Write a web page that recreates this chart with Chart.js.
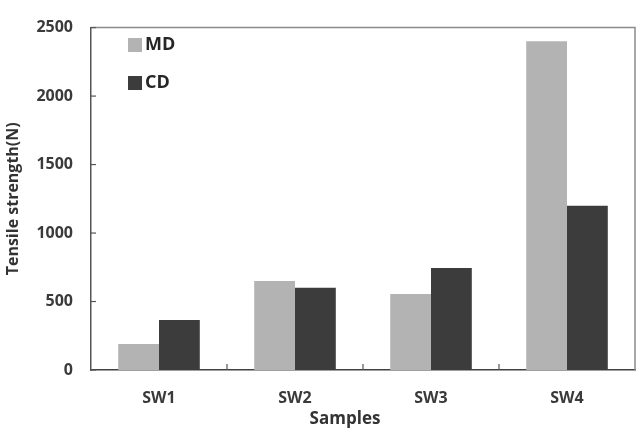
<!DOCTYPE html>
<html>
<head>
<meta charset="utf-8">
<script src="https://cdn.jsdelivr.net/npm/chart.js@4.4.0/dist/chart.umd.min.js"></script>
<style>
  html, body { margin: 0; padding: 0; background: #ffffff; }
  #wrap { width: 643px; height: 428px; }
</style>
</head>
<body>
<div id="wrap"><canvas id="tensileChart" width="643" height="428"></canvas></div>
<script>
// Data
const samples = ['SW1', 'SW2', 'SW3', 'SW4'];
const mdValues = [190, 650, 555, 2400];
const cdValues = [365, 600, 745, 1200];
const yTicks = [0, 500, 1000, 1500, 2000, 2500];

const FONT = '"Open Sans", Lato, sans-serif';

// frame, inward ticks and the legend inside the plot
const framePlugin = {
    id: 'frame',
    afterDraw(chart) {
        const ctx = chart.ctx;
        const area = chart.chartArea;
        const x = chart.scales.x;
        const y = chart.scales.y;
        ctx.save();

        // top + right border
        ctx.strokeStyle = '#8a8a8a';
        ctx.lineWidth = 1.5;
        ctx.beginPath();
        ctx.moveTo(area.left, area.top);
        ctx.lineTo(area.right, area.top);
        ctx.lineTo(area.right, area.bottom);
        ctx.stroke();

        // y ticks pointing inward
        ctx.strokeStyle = '#555555';
        ctx.lineWidth = 1.2;
        yTicks.forEach(v => {
            const py = y.getPixelForValue(v);
            ctx.beginPath();
            ctx.moveTo(area.left, py);
            ctx.lineTo(area.left + 5, py);
            ctx.stroke();
        });

        // x ticks between categories, pointing up
        for (let i = 0; i < samples.length - 1; i++) {
            const px = (x.getPixelForValue(i) + x.getPixelForValue(i + 1)) / 2;
            ctx.beginPath();
            ctx.moveTo(px, area.bottom);
            ctx.lineTo(px, area.bottom - 6);
            ctx.stroke();
        }

        // legend
        const items = chart.data.datasets;
        ctx.font = 'bold 18px ' + FONT;
        ctx.textBaseline = 'middle';
        items.forEach((ds, i) => {
            const cy = 45 + i * 38;
            ctx.fillStyle = ds.backgroundColor;
            ctx.fillRect(128, cy - 7, 14, 14);
            ctx.fillStyle = '#262626';
            ctx.fillText(ds.label, 145, cy);
        });

        // x axis title, set slightly left of centre like the source
        ctx.font = 'bold 17px ' + FONT;
        ctx.textAlign = 'center';
        ctx.fillStyle = '#333333';
        ctx.fillText('Samples', 345, 419);
        ctx.restore();
    }
};

new Chart(document.getElementById('tensileChart'), {
    type: 'bar',
    data: {
        labels: samples,
        datasets: [
            {
                label: 'MD',
                data: mdValues,
                backgroundColor: '#b3b3b3',
                borderWidth: 0,
                categoryPercentage: 0.6,
                barPercentage: 1.0
            },
            {
                label: 'CD',
                data: cdValues,
                backgroundColor: '#3c3c3c',
                borderWidth: 0,
                categoryPercentage: 0.6,
                barPercentage: 1.0
            }
        ]
    },
    options: {
        responsive: false,
        animation: false,
        devicePixelRatio: 1,
        layout: { padding: { top: 8, right: 8, left: 0, bottom: 0 } },
        plugins: {
            legend: { display: false },
            tooltip: { enabled: false }
        },
        scales: {
            x: {
                grid: { display: false, drawTicks: false },
                border: { display: true, color: '#404040', width: 1.5 },
                ticks: {
                    color: '#3a3a3a',
                    padding: 19,
                    font: { family: FONT, size: 16, weight: 'bold' }
                },
                afterFit(scale) { scale.height = 58; }
            },
            y: {
                min: 0,
                max: 2500,
                afterBuildTicks(scale) {
                    scale.ticks = yTicks.map(v => ({ value: v }));
                },
                grid: { display: false, drawTicks: false },
                border: { display: true, color: '#555555', width: 1.5 },
                ticks: {
                    color: '#3a3a3a',
                    padding: 18,
                    callback: v => String(v),
                    font: { family: FONT, size: 16, weight: 'bold' }
                },
                title: {
                    display: true,
                    text: 'Tensile strength(N)',
                    color: '#333333',
                    padding: { top: 4, bottom: 0 },
                    font: { family: FONT, size: 16, weight: 'bold' }
                },
                afterFit(scale) { scale.width = 91; }
            }
        }
    },
    plugins: [framePlugin]
});
</script>
</body>
</html>
